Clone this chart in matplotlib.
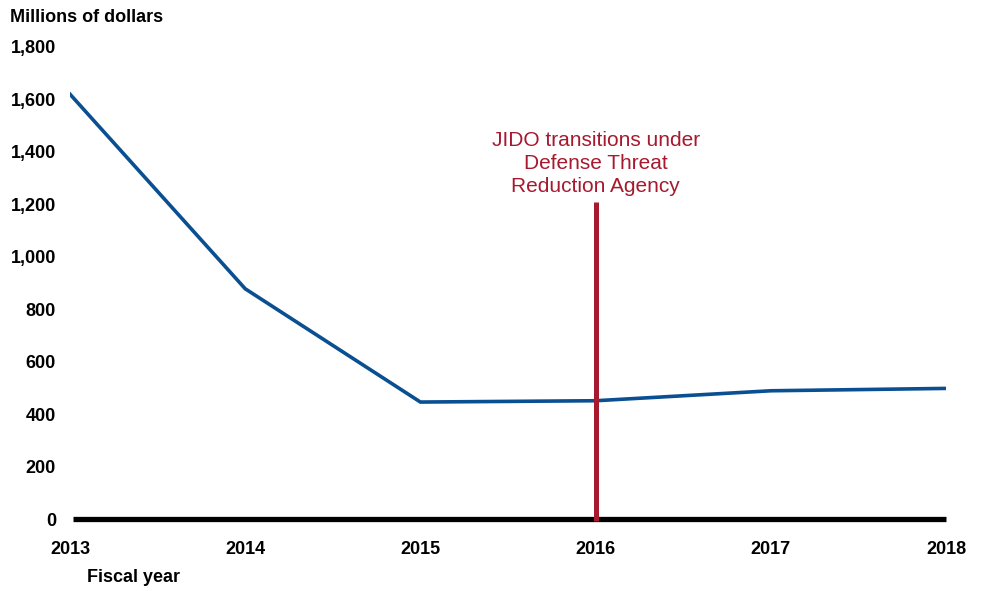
import matplotlib
matplotlib.use("Agg")
import matplotlib.pyplot as plt

years = [2013, 2014, 2015, 2016, 2017, 2018]
funding = [1620, 878, 446, 451, 489, 498]
event_year = 2016
event_top = 1210
event_label = "JIDO transitions under\nDefense Threat\nReduction Agency"
yticks = [0, 200, 400, 600, 800, 1000, 1200, 1400, 1600, 1800]

plt.rcParams['font.family'] = ['Liberation Sans', 'DejaVu Sans']

fig = plt.figure(figsize=(9.88, 5.91), dpi=100)
ax = fig.add_axes([70/988, 1-519/591, (946-70)/988, (519-47)/591])

ax.plot(years, funding, color='#0A4F91', lw=2.6, solid_joinstyle='miter', zorder=3)
ax.axhline(0, color='black', lw=3.8, zorder=2, xmin=0.003, xmax=1.0, clip_on=False,
           solid_capstyle='butt')
ax.plot([event_year, event_year], [-8, event_top], color='#A6192E', lw=3.6, zorder=4,
        solid_capstyle='butt', clip_on=False)
ax.text(event_year, 1355, event_label, ha='center', va='center', color='#A6192E',
        fontsize=15, linespacing=1.27)

ax.set_xlim(2013, 2018)
ax.set_ylim(0, 1800)
ax.set_yticks(yticks)
ax.set_yticklabels([f"{v:,}" for v in yticks], fontweight='bold', fontsize=13)
ax.set_xticks(years)
ax.set_xticklabels([str(y) for y in years], fontweight='bold', fontsize=13)
ax.tick_params(length=0, axis='y', pad=10)
ax.tick_params(length=0, axis='x', pad=16)
for s in ax.spines.values():
    s.set_visible(False)

fig.text(10/988, 1-17/591, "Millions of dollars", fontweight='bold', fontsize=13, va='center', ha='left')
fig.text(87/988, 1-578/591, "Fiscal year", fontweight='bold', fontsize=13, va='center', ha='left')

fig.savefig("out.png", dpi=100)
